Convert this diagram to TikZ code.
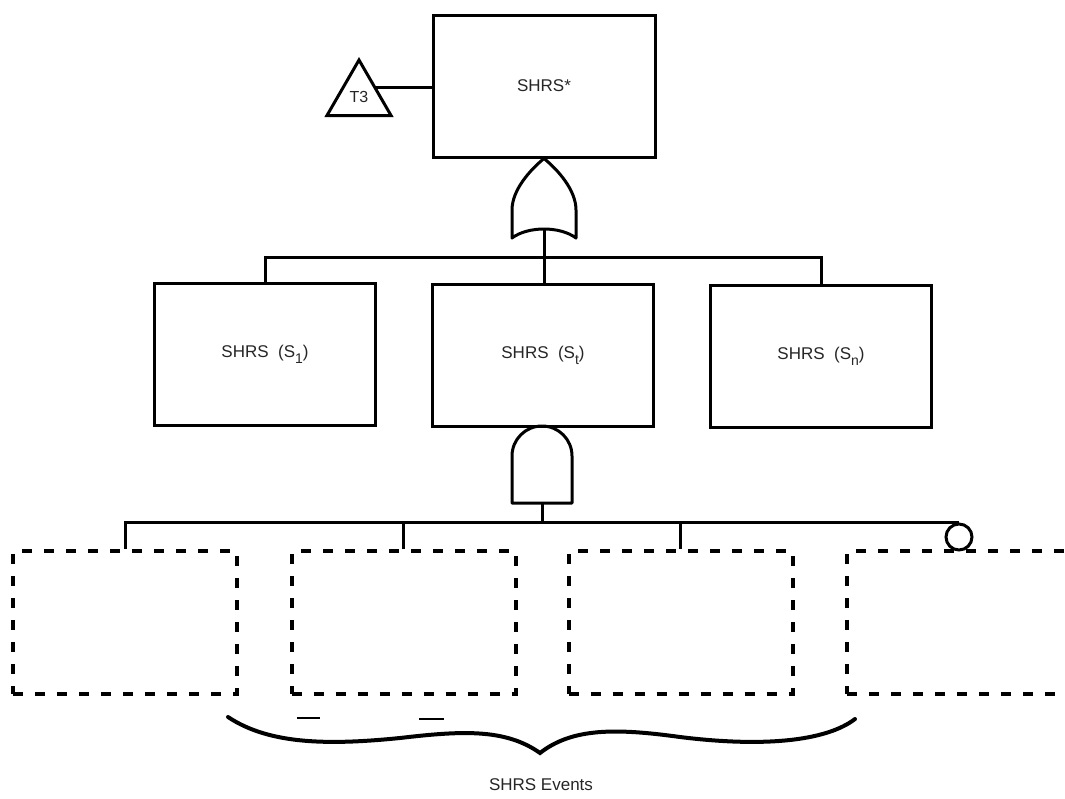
\documentclass[tikz,border=0pt]{standalone}
\usepackage{fontspec}
\setmainfont{Liberation Sans}
\usetikzlibrary{shapes.geometric}
\newcommand\lowsub[1]{\raisebox{-6pt}{\fontsize{14}{14}\selectfont #1}}
\begin{document}
\begin{tikzpicture}[x=1pt,y=-1pt,
  txt/.style={font=\fontsize{17}{19}\selectfont, text=black!85},
  box/.style={draw, line width=3pt, minimum width=221pt, minimum height=142pt, inner sep=0pt, txt},
  evbox/.style={draw, line width=4pt, dash pattern=on 10pt off 12pt, minimum width=224pt, minimum height=143pt, inner sep=0pt},
  wire/.style={line width=3pt},
  gate/.style={line width=3pt, line join=round},
  tri/.style={draw, line width=3pt, regular polygon, regular polygon sides=3, minimum size=74pt, inner sep=0pt, txt, font=\fontsize{16}{16}\selectfont},
  brace/.style={line width=4pt, line cap=round},
  speck/.style={line width=1.8pt}]
\useasboundingbox (0,0) rectangle (1065,798);
\fill[white] (0,0) rectangle (1065,798);

% top event
\node[box, minimum width=222pt] (top) at (544,86) {SHRS*};
\node[tri] (t3) at (359,97) {T3};
\draw[wire] (t3.side 3) -- (t3.side 3 -| top.west);

% second level
\node[box] (b1) at (265,354) {SHRS\ \ (S\lowsub{1})};
\node[box] (b2) at (543,355) {SHRS\ \ (S\lowsub{t})};
\node[box] (b3) at (821,356) {SHRS\ \ (S\lowsub{n})};

% OR gate
\coordinate (orT) at (top.south);
\coordinate (orB) at (544,229);
\draw[gate] (orT) .. controls (530,170) and (512,190) .. (512,210) -- (512,238)
   .. controls (528,226) and (560,226) .. (576,238) -- (576,210)
   .. controls (576,190) and (558,170) .. (orT);
\coordinate (bar1) at (544,257);
\draw[wire] (orB) -- (orB |- b2.north);
\draw[wire] (b1.north) |- (bar1) -| (b3.north);

% AND gate
\draw[gate] (512,503) -- (512,456) arc (180:360:30) -- (572,503) -- cycle;
\coordinate (andB) at (542,503);
\coordinate (bar2) at (542,524);
\draw[wire] (andB) -- (bar2);

% basic events
\node[evbox] (e1) at (125,622.5) {};
\node[evbox] (e2) at (403.5,622.5) {};
\node[evbox] (e3) at (680.5,622.5) {};
\node[evbox] (e4) at (959,622.5) {};
\node[draw, circle, line width=3pt, minimum size=26pt, inner sep=0pt] (circ) at (959,537) {};
\draw[wire] (e1.north) |- (circ.north);
\draw[wire] (e2.north) -- (e2.north |- bar2);
\draw[wire] (e3.north) -- (e3.north |- bar2);

% brace
\draw[brace] (228,717) .. controls (270,745) and (330,745) .. (400,738)
   .. controls (460,731) and (505,728) .. (540,753)
   .. controls (572,728) and (615,728) .. (680,737)
   .. controls (760,747) and (825,742) .. (855,719);
\draw[speck] (297,718) -- (320,718);
\draw[speck] (419,719) -- (444,719);
\node[txt] (ev) at (541,785) {SHRS Events};
\end{tikzpicture}
\end{document}
